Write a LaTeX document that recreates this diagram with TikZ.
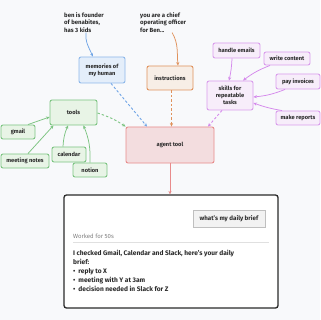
\documentclass[tikz,border=0pt]{standalone}
\usepackage{fontspec}
\setmainfont{Fira Sans}
\usetikzlibrary{arrows.meta}
\definecolor{bg}{HTML}{F8F9FB}
\definecolor{bluebd}{HTML}{8DB8EA}
\definecolor{bluear}{HTML}{6FA4E6}
\definecolor{bluefill}{HTML}{E4EEFA}
\definecolor{orbd}{HTML}{E0925C}
\definecolor{orfill}{HTML}{F7EEE6}
\definecolor{pubd}{HTML}{D99CEC}
\definecolor{puar}{HTML}{D58AEC}
\definecolor{pufill}{HTML}{F7EDFA}
\definecolor{grbd}{HTML}{7CC481}
\definecolor{grfill}{HTML}{E8F4E6}
\definecolor{rdbd}{HTML}{E88B8B}
\definecolor{rdfill}{HTML}{F3DDDF}
\definecolor{ink}{HTML}{2A2A2A}
\begin{document}
\begin{tikzpicture}[x=1pt,y=1pt,
  font=\fontsize{5.7}{7}\selectfont\bfseries,
  box/.style={draw, rounded corners=2pt, line width=0.9pt, align=center, inner sep=1pt, text=ink},
  bluebox/.style={box, draw=bluebd, fill=bluefill},
  orbox/.style={box, draw=orbd, fill=orfill},
  pubox/.style={box, draw=pubd, fill=pufill},
  grbox/.style={box, draw=grbd, fill=grfill},
  rdbox/.style={box, draw=rdbd, fill=rdfill},
  note/.style={align=left, inner sep=0pt, text=ink, font=\fontsize{6}{7.6}\selectfont\bfseries},
  arr/.style={-{Stealth[length=3.5pt,width=3.2pt]}, line width=0.75pt},
  darr/.style={arr, line width=0.9pt, dash pattern=on 2.5pt off 2pt}]
\fill[bg] (0,0) rectangle (320,-320);
\useasboundingbox (0,0) rectangle (320,-320);

% notes
\node[note, anchor=north west] (ben) at (64,-12) {ben is founder\\of benabites,\\has 3 kids};
\node[note, anchor=north west] (you) at (140,-12) {you are a chief\\operating officer\\for Ben...};

% boxes
\node[bluebox, minimum width=46pt, minimum height=26pt] (mem) at (102,-70) {memories of\\my human};
\node[orbox, minimum width=46pt, minimum height=24pt] (instr) at (170,-78) {instructions};
\node[pubox, minimum width=46pt, minimum height=29pt] (skills) at (230,-95.5) {skills for\\repeatable\\tasks};
\node[pubox, minimum width=47pt, minimum height=15pt] (handle) at (236.5,-50.5) {handle emails};
\node[pubox, minimum width=46pt, minimum height=13pt] (write) at (287,-58.5) {write content};
\node[pubox, minimum width=44pt, minimum height=15pt] (pay) at (298,-81.5) {pay invoices};
\node[pubox, minimum width=44pt, minimum height=14pt] (make) at (298,-118) {make reports};
\node[grbox, minimum width=47pt, minimum height=25pt] (tools) at (73.5,-112.5) {tools};
\node[grbox, minimum width=34pt, minimum height=14pt] (gmail) at (18,-132) {gmail};
\node[grbox, minimum width=48pt, minimum height=14pt] (meet) at (25,-161) {meeting notes};
\node[grbox, minimum width=34pt, minimum height=15pt] (cal) at (69,-154.5) {calendar};
\node[grbox, minimum width=34pt, minimum height=14pt] (notion) at (90,-170) {notion};
\node[rdbox, minimum width=88pt, minimum height=36pt] (agent) at (170,-145) {agent tool};

% chat panel
\node[draw=ink, fill=white, line width=1.3pt, rounded corners=2.5pt, minimum width=214pt, minimum height=113pt] (chat) at (171,-251.5) {};
\node[draw=black!25, fill=black!5, line width=0.7pt, minimum width=72pt, minimum height=17pt, inner sep=1pt, text=ink, font=\fontsize{6.2}{7}\selectfont\bfseries] (ask) at (229,-218.5) {what's my daily brief};
\node[anchor=west, inner sep=0pt, text=black!50, font=\fontsize{6}{7}\selectfont] (worked) at (73,-236.5) {Worked for 50s};
\draw[black!12, line width=0.8pt] (73,-242.5) -- (269,-242.5);
\node[anchor=north west, align=left, inner sep=0pt, text=ink, font=\fontsize{6.6}{9}\selectfont\bfseries] (reply) at (73,-250) {I checked Gmail, Calendar and Slack, here's your daily\\brief:\\\textbullet\hspace{3pt}reply to X\\\textbullet\hspace{3pt}meeting with Y at 3am\\\textbullet\hspace{3pt}decision needed in Slack for Z};

% connectors
\draw[arr, bluear] ([xshift=2pt]ben.south) to[out=-95,in=115] ([xshift=-9pt]mem.north);
\draw[arr, orbd] ([xshift=9pt]you.south) to[out=-60,in=95] ([xshift=8pt]instr.north);
\draw[darr, bluear] ([xshift=9pt]mem.south) -- ([xshift=-23pt]agent.north);
\draw[darr, orbd] ([xshift=1.5pt]instr.south) -- ([xshift=1.5pt]agent.north);
\draw[darr, puar] ([xshift=-8pt]skills.south) -- ([xshift=38pt]agent.north);
\draw[darr, grbd] ([yshift=-0.5pt]tools.east) to[bend left=8] (agent.north west);
\draw[arr, grbd] ([xshift=10pt]gmail.north) -- ([yshift=-4.5pt]tools.west);
\draw[arr, grbd] ([xshift=3pt]meet.north) -- ([xshift=-20pt]tools.south);
\draw[arr, grbd] ([xshift=-6pt]cal.north) to[bend left=10] ([xshift=-5.5pt]tools.south);
\draw[arr, grbd] (notion.north) to[bend right=12] ([xshift=10pt]tools.south);
\draw[arr, puar] ([xshift=-4.5pt]handle.south) to[bend left=5] ([xshift=-1pt]skills.north);
\draw[arr, puar] ([xshift=-17pt]write.south) to[bend right=8] ([xshift=13pt]skills.north);
\draw[arr, puar] ([xshift=-13pt]pay.south) to[bend left=8] ([yshift=-1.5pt]skills.east);
\draw[arr, puar] ([xshift=-16pt]make.north) to[bend left=5] ([yshift=-7.5pt]skills.east);
\draw[arr, rdbd] (agent.south) -- ([xshift=-1pt]chat.north);
\end{tikzpicture}
\end{document}
